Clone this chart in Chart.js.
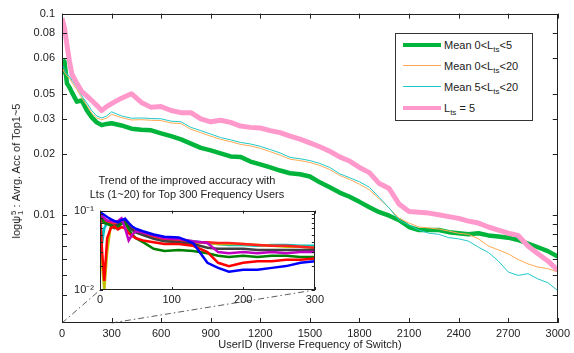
<!DOCTYPE html>
<html>
<head>
<meta charset="utf-8">
<script src="https://cdn.jsdelivr.net/npm/chart.js@4.4.1/dist/chart.umd.min.js"></script>
<style>
  body { margin: 0; background: #fff; }
  #wrap { position: relative; width: 574px; height: 353px; font-family: "Liberation Sans", Arial, sans-serif; color: #222; }
  #main { position: absolute; left: 0; top: 0; }
  #inset { position: absolute; left: 66px; top: 198px; }
  #ytitle { position: absolute; width: 260px; left: -113px; top: 164px; text-align: center; font-size: 11px; transform: rotate(-90deg); white-space: nowrap; }
  .ss { display: inline-block; vertical-align: middle; line-height: 7px; font-size: 8px; text-align: left; margin-left: 1px; }
  #legend { position: absolute; left: 395px; top: 33px; width: 136px; height: 86px; border: 1px solid #333; background: #fff; font-size: 11px; }
  .row { position: absolute; left: 0; height: 14px; }
  .swatch { position: absolute; left: 7px; width: 38px; }
  .lbl { position: absolute; left: 48px; top: 0; white-space: nowrap; line-height: 14px; }
  .lbl sub { font-size: 8px; vertical-align: -3px; }
  .ititle { position: absolute; left: 57px; width: 260px; text-align: center; font-size: 11px; white-space: nowrap; }
</style>
</head>
<body>
<div id="wrap">
  <canvas id="main" width="574" height="353"></canvas>
  <div id="ytitle">log&psi;<span class="ss">5<br>1</span> : Avrg. Acc of Top1~5</div>
  <div class="ititle" style="top:174px">Trend of the improved accuracy with</div>
  <div class="ititle" style="top:188px">Lts (1~20) for Top 300 Frequency Users</div>
  <canvas id="inset" width="261" height="108"></canvas>
  <div id="legend">
    <div class="row" style="top:4px"><div class="swatch" style="top:5px;height:4px;background:#00b43c"></div><div class="lbl">Mean 0&lt;L<sub>ts</sub>&lt;5</div></div>
    <div class="row" style="top:25px"><div class="swatch" style="top:6px;height:1px;background:#ffaa55"></div><div class="lbl">Mean 0&lt;L<sub>ts</sub>&lt;20</div></div>
    <div class="row" style="top:46px"><div class="swatch" style="top:6px;height:1px;background:#22c8c8"></div><div class="lbl">Mean 5&lt;L<sub>ts</sub>&lt;20</div></div>
    <div class="row" style="top:67px"><div class="swatch" style="top:5px;height:4px;background:#ff99cc"></div><div class="lbl">L<sub>ts</sub> = 5</div></div>
  </div>
</div>
<script>
// main plot: user ids on x, accuracy on log y
const userIds = [0, 15, 30, 45, 60, 90, 120, 150, 180, 210, 240, 270, 300,
  360, 420, 480, 540, 600, 660, 720, 780, 840, 900,
  960, 1020, 1080, 1140, 1200, 1260, 1320, 1380, 1440, 1500,
  1560, 1620, 1680, 1740, 1800, 1860, 1920, 1980, 2040, 2100,
  2160, 2220, 2280, 2340, 2400, 2460, 2520, 2580, 2640, 2700,
  2760, 2820, 2880, 2940, 3000];

const meanLt5 = [0.050, 0.058, 0.045, 0.043, 0.0406, 0.0365, 0.037, 0.0331, 0.0305, 0.0288, 0.0279, 0.0283, 0.0285,
  0.0278, 0.0268, 0.0265, 0.0263, 0.0254, 0.0246, 0.0237, 0.0226, 0.0215, 0.0209,
  0.0202, 0.0195, 0.0194, 0.0184, 0.0178, 0.0172, 0.0166, 0.0161, 0.0159, 0.0155,
  0.0145, 0.0137, 0.0129, 0.0123, 0.0116, 0.0109, 0.0103, 0.0099, 0.0094, 0.0087,
  0.0084, 0.0084, 0.0084, 0.0082, 0.0081, 0.0080, 0.0081, 0.0079, 0.0078, 0.0077,
  0.0075, 0.0072, 0.0069, 0.0066, 0.0062];

const meanLt20 = [0.054, 0.051, 0.049, 0.048, 0.0455, 0.042, 0.038, 0.035, 0.032, 0.0303, 0.0297, 0.0302, 0.0316,
  0.0304, 0.0296, 0.0297, 0.0295, 0.0294, 0.0286, 0.0284, 0.0266, 0.0256, 0.0246,
  0.0237, 0.0231, 0.0224, 0.0220, 0.0214, 0.0206, 0.0198, 0.0189, 0.0186, 0.0182,
  0.0176, 0.0168, 0.0157, 0.0150, 0.0142, 0.0133, 0.0120, 0.0108, 0.0096, 0.0091,
  0.0087, 0.0086, 0.0085, 0.0083, 0.0081, 0.0080, 0.0076, 0.0070, 0.0067, 0.0064,
  0.0060, 0.0057, 0.0055, 0.0054, 0.0052];

const mean5to20 = [0.056, 0.053, 0.050, 0.049, 0.0466, 0.043, 0.039, 0.036, 0.033, 0.031, 0.0303, 0.031, 0.0325,
  0.0310, 0.0302, 0.0303, 0.0301, 0.0300, 0.0292, 0.0290, 0.0272, 0.0262, 0.0252,
  0.0242, 0.0236, 0.0229, 0.0225, 0.0219, 0.0211, 0.0203, 0.0193, 0.0190, 0.0186,
  0.0180, 0.0172, 0.0160, 0.0153, 0.0146, 0.0137, 0.0122, 0.0108, 0.0094, 0.0089,
  0.0084, 0.0081, 0.0080, 0.0077, 0.0076, 0.0074, 0.0069, 0.0065, 0.0059, 0.0052,
  0.0050, 0.0051, 0.0048, 0.0046, 0.0042];

const lts5 = [0.095, 0.085, 0.070, 0.058, 0.050, 0.045, 0.041, 0.039, 0.037, 0.035, 0.033, 0.0345, 0.0357,
  0.0380, 0.0400, 0.0362, 0.0342, 0.0345, 0.0330, 0.0322, 0.0322, 0.0300, 0.0290,
  0.0295, 0.0288, 0.0276, 0.0272, 0.0270, 0.0262, 0.0256, 0.0246, 0.0238, 0.0228,
  0.0218, 0.0207, 0.0194, 0.0185, 0.0172, 0.0162, 0.0143, 0.0135, 0.0113, 0.0104,
  0.0103, 0.0102, 0.0100, 0.0098, 0.0096, 0.0093, 0.0091, 0.0087, 0.0084, 0.0081,
  0.0079, 0.0070, 0.0064, 0.0059, 0.0053];

// y ticks (the original labels 0.04 as "0.05")
const yTickVals = [0.1, 0.08, 0.06, 0.04, 0.03, 0.02, 0.01, 0.009, 0.008, 0.007, 0.006, 0.005, 0.004];
const yTickLabels = ['0.1', '0.08', '0.06', '0.05', '0.03', '0.02', '0.01', '', '', '', '', '', ''];

// inset: top 300 users, Lts 1~20
const insetX = [0, 3, 6, 10, 15, 20, 25, 30, 35, 40, 45, 50, 60, 75, 90, 110, 130, 150, 165, 180, 200, 220, 240, 260, 280, 300];
const insetBlue = [0.095, 0.092, 0.088, 0.083, 0.078, 0.074, 0.071, 0.076, 0.079, 0.070, 0.063, 0.059, 0.055, 0.050, 0.047, 0.046, 0.039, 0.022, 0.019, 0.017, 0.018, 0.018, 0.019, 0.020, 0.022, 0.023];
const insetRed = [0.090, 0.030, 0.013, 0.045, 0.060, 0.063, 0.058, 0.062, 0.060, 0.052, 0.048, 0.045, 0.042, 0.040, 0.038, 0.038, 0.036, 0.030, 0.022, 0.020, 0.022, 0.023, 0.023, 0.024, 0.024, 0.025];
const insetRed2 = [0.085, 0.080, 0.075, 0.072, 0.070, 0.068, 0.066, 0.072, 0.078, 0.064, 0.058, 0.054, 0.050, 0.046, 0.044, 0.042, 0.040, 0.040, 0.039, 0.039, 0.038, 0.037, 0.036, 0.036, 0.035, 0.034];
const insetGreen = [0.090, 0.080, 0.070, 0.068, 0.065, 0.060, 0.062, 0.068, 0.070, 0.058, 0.050, 0.045, 0.040, 0.033, 0.031, 0.032, 0.031, 0.029, 0.027, 0.026, 0.027, 0.026, 0.027, 0.027, 0.026, 0.026];
const insetMagenta = [0.088, 0.085, 0.080, 0.075, 0.074, 0.072, 0.074, 0.080, 0.060, 0.042, 0.050, 0.055, 0.053, 0.049, 0.045, 0.044, 0.041, 0.039, 0.030, 0.029, 0.030, 0.029, 0.030, 0.029, 0.030, 0.030];
const insetCyan = [0.092, 0.040, 0.060, 0.070, 0.070, 0.066, 0.068, 0.075, 0.078, 0.066, 0.060, 0.056, 0.052, 0.047, 0.044, 0.043, 0.041, 0.039, 0.038, 0.037, 0.037, 0.036, 0.037, 0.037, 0.036, 0.036];
const insetYellow = [0.085, 0.020, 0.010, 0.030, 0.065, 0.064, 0.066, 0.072, 0.076, 0.064, 0.058, 0.055, 0.051, 0.046, 0.043, 0.042, 0.040, 0.039, 0.038, 0.038, 0.038, 0.037, 0.036, 0.035, 0.035, 0.034];
const insetBlack = [0.080, 0.075, 0.070, 0.068, 0.066, 0.064, 0.066, 0.070, 0.074, 0.063, 0.057, 0.053, 0.049, 0.044, 0.041, 0.040, 0.038, 0.034, 0.033, 0.033, 0.033, 0.032, 0.032, 0.032, 0.032, 0.032];
const insetYTicks = [0.1, 0.09, 0.08, 0.07, 0.06, 0.05, 0.04, 0.03, 0.02, 0.01];

const FONT = { family: '"Liberation Sans", Arial, sans-serif', size: 11 };
const INK = '#222';

function pts(xs, ys) { return xs.map((x, i) => ({ x: x, y: ys[i] })); }

// box around the plot plus inward tick marks on all four sides
const boxTicks = {
  id: 'boxTicks',
  beforeDatasetsDraw(chart, args, opts) {
    if (!opts.fill) return;
    const a = chart.chartArea;
    chart.ctx.save();
    chart.ctx.fillStyle = '#fff';
    chart.ctx.fillRect(a.left, a.top, a.width, a.height);
    chart.ctx.restore();
  },
  afterDraw(chart, args, opts) {
    const { ctx, chartArea: a, scales } = chart;
    const L = opts.len || 5;
    ctx.save();
    ctx.strokeStyle = INK;
    ctx.lineWidth = 1;
    ctx.beginPath();
    scales.x.ticks.forEach(t => {
      const px = Math.round(scales.x.getPixelForValue(t.value)) + 0.5;
      ctx.moveTo(px, a.bottom); ctx.lineTo(px, a.bottom - L);
      ctx.moveTo(px, a.top); ctx.lineTo(px, a.top + L);
    });
    scales.y.ticks.forEach(t => {
      const py = Math.round(scales.y.getPixelForValue(t.value)) + 0.5;
      ctx.moveTo(a.left, py); ctx.lineTo(a.left + L, py);
      ctx.moveTo(a.right, py); ctx.lineTo(a.right - L, py);
    });
    ctx.stroke();
    ctx.strokeRect(Math.round(a.left) + 0.5, Math.round(a.top) + 0.5, Math.round(a.width) - 1, Math.round(a.height) - 1);
    ctx.restore();
  }
};

const noGrid = { display: false, drawTicks: false };

// inset chart
const insetCanvas = document.getElementById('inset');
const insetSeries = [
  [insetBlue, '#0000ff'], [insetMagenta, '#c000c0'], [insetRed, '#ff0000'], [insetGreen, '#008000'],
  [insetBlack, '#404040'], [insetRed2, '#ff2020'], [insetYellow, '#c0c000'], [insetCyan, '#00c0c0']
];
const insetChart = new Chart(insetCanvas, {
  type: 'line',
  data: {
    datasets: insetSeries.map(s => ({
      data: pts(insetX, s[0]),
      borderColor: s[1],
      borderWidth: 2.5,
      pointRadius: 0,
      tension: 0
    }))
  },
  options: {
    responsive: false,
    animation: false,
    events: [],
    layout: { padding: { top: 7, right: 10, left: 0, bottom: 0 } },
    plugins: { legend: { display: false }, tooltip: { enabled: false }, boxTicks: { len: 3, fill: true } },
    scales: {
      x: {
        type: 'linear', min: 0, max: 300,
        grid: noGrid, border: { display: false },
        ticks: { stepSize: 100, font: FONT, color: INK, padding: 3, maxRotation: 0, callback: v => String(v) },
        afterFit: s => { s.height = 16; }
      },
      y: {
        type: 'logarithmic', min: 0.01, max: 0.1,
        grid: noGrid, border: { display: false },
        afterBuildTicks: s => { s.ticks = insetYTicks.map(v => ({ value: v })); },
        ticks: {
          font: FONT, color: INK, padding: 6, autoSkip: false,
          callback: v => (v === 0.1 ? '10\u207B\u00B9' : v === 0.01 ? '10\u207B\u00B2' : '')
        },
        afterFit: s => { s.width = 34; }
      }
    }
  },
  plugins: [boxTicks]
});

// dash-dot lines from the zoomed x range on the main axis to the inset corners
const zoomLines = {
  id: 'zoomLines',
  afterDraw(chart) {
    const { ctx, chartArea: a, scales: { x } } = chart;
    const ia = insetChart.chartArea;
    const ox = insetCanvas.offsetLeft, oy = insetCanvas.offsetTop;
    ctx.save();
    ctx.strokeStyle = '#333';
    ctx.lineWidth = 0.8;
    ctx.setLineDash([6, 3, 1.5, 3]);
    ctx.beginPath();
    ctx.moveTo(x.getPixelForValue(insetX[0]), a.bottom);
    ctx.lineTo(ox + ia.left, oy + ia.bottom);
    ctx.moveTo(x.getPixelForValue(insetX[insetX.length - 1]), a.bottom);
    ctx.lineTo(ox + ia.right, oy + ia.bottom);
    ctx.stroke();
    ctx.restore();
  }
};

new Chart(document.getElementById('main'), {
  type: 'line',
  data: {
    datasets: [
      { label: 'Lts = 5', data: pts(userIds, lts5), borderColor: '#ff99cc', borderWidth: 5 },
      { label: 'Mean 5<Lts<20', data: pts(userIds, mean5to20), borderColor: '#22c8c8', borderWidth: 1 },
      { label: 'Mean 0<Lts<20', data: pts(userIds, meanLt20), borderColor: '#ffaa55', borderWidth: 1 },
      { label: 'Mean 0<Lts<5', data: pts(userIds, meanLt5), borderColor: '#00b43c', borderWidth: 4.5 }
    ].map(d => Object.assign(d, { pointRadius: 0, tension: 0, borderJoinStyle: 'round' }))
  },
  options: {
    responsive: false,
    animation: false,
    events: [],
    layout: { padding: { top: 13, right: 12, left: 0, bottom: 0 } },
    plugins: { legend: { display: false }, tooltip: { enabled: false }, boxTicks: { len: 5 } },
    scales: {
      x: {
        type: 'linear', min: 0, max: 3000,
        grid: noGrid, border: { display: false },
        ticks: { stepSize: 300, font: FONT, color: INK, padding: 4, maxRotation: 0, autoSkip: false, callback: v => String(v) },
        title: { display: true, text: 'UserID (Inverse Frequency of Switch)', font: FONT, color: INK, padding: { top: 0, bottom: 1 } },
        afterFit: s => { s.height = 30; }
      },
      y: {
        type: 'logarithmic', min: 0.0029, max: 0.1,
        grid: noGrid, border: { display: false },
        afterBuildTicks: s => { s.ticks = yTickVals.map(v => ({ value: v })); },
        ticks: {
          font: FONT, color: INK, padding: 7, autoSkip: false,
          callback: (v, i) => yTickLabels[i]
        },
        afterFit: s => { s.width = 62; }
      }
    }
  },
  plugins: [boxTicks, zoomLines]
});
</script>
</body>
</html>
